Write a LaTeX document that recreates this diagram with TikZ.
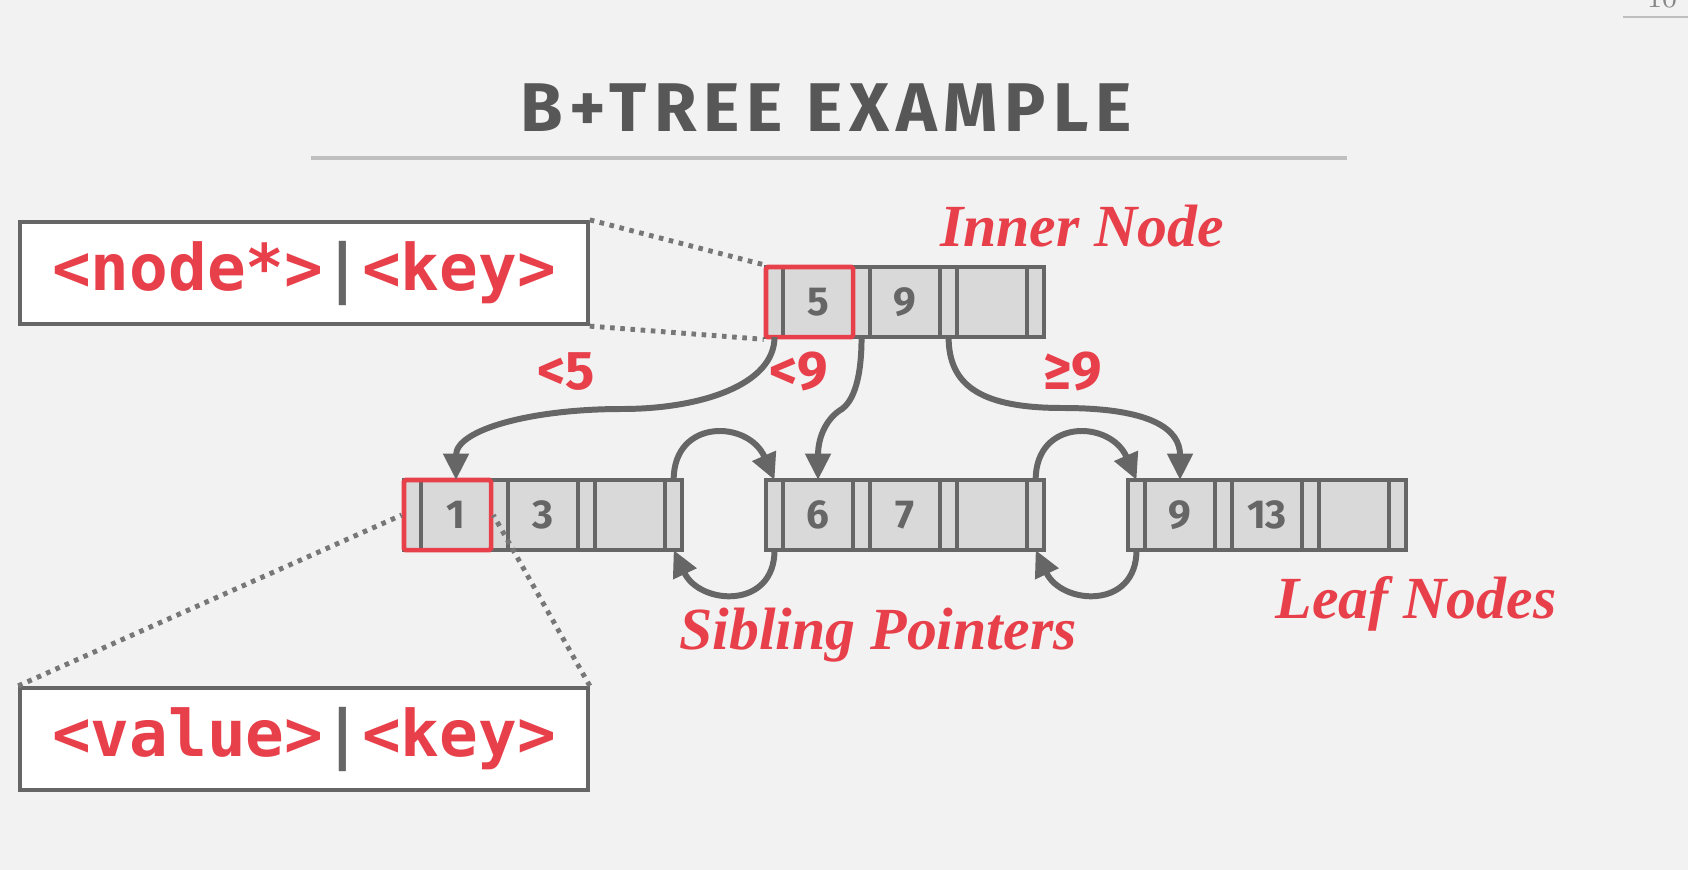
\documentclass[tikz,border=0pt]{standalone}
\usepackage{fontspec}
\usetikzlibrary{positioning,fit,arrows.meta}

\setmainfont{Liberation Serif}
\newfontfamily\sansfont{Fira Sans}
\newfontfamily\codefont{DejaVu Sans Mono}
\newfontfamily\titlefont[LetterSpace=10]{Fira Sans}
\newfontfamily\pagefont{Latin Modern Roman}

\definecolor{slidebg}{HTML}{F2F2F2}
\definecolor{linegray}{HTML}{666666}
\definecolor{cellgray}{HTML}{D9D9D9}
\definecolor{hlred}{HTML}{E8404B}
\definecolor{titlegray}{HTML}{575757}
\definecolor{rulegray}{HTML}{BFBFBF}
\definecolor{dotgray}{HTML}{777777}

% one B+tree node: name, top-left corner, three keys
\newcommand{\bptnode}[5]{%
  \node[ptrcell, anchor=north west] (#1-p0) at (#2) {};
  \node[keycell, right=0pt of #1-p0] (#1-k1) {#3};
  \node[ptrcell, right=0pt of #1-k1] (#1-p1) {};
  \node[keycell, right=0pt of #1-p1] (#1-k2) {#4};
  \node[ptrcell, right=0pt of #1-k2] (#1-p2) {};
  \node[keycell, right=0pt of #1-p2] (#1-k3) {#5};
  \node[ptrcell, right=0pt of #1-k3] (#1-p3) {};
}

\begin{document}
\begin{tikzpicture}[x=0.01cm, y=-0.01cm,
    ptrcell/.style={draw=linegray, fill=cellgray, line width=1.1pt, outer sep=0pt,
      inner sep=0pt, minimum width=0.17cm, minimum height=0.70cm},
    keycell/.style={ptrcell, minimum width=0.70cm,
      font=\sansfont\bfseries\fontsize{11.5pt}{13pt}\selectfont, text=linegray},
    hlbox/.style={draw=hlred, line width=1.3pt, inner sep=0pt, rounded corners=0.5pt},
    fmtbox/.style={draw=linegray, fill=white, line width=1.2pt, minimum width=5.67cm,
      minimum height=1.02cm, inner sep=0pt, font=\codefont\bfseries\fontsize{18.3pt}{20pt}\selectfont},
    ptrarrow/.style={draw=linegray, line width=1.7pt, -{Triangle[length=7.5pt,width=7pt]}},
    zoomline/.style={draw=dotgray, line width=1.4pt, dash pattern=on 1.3pt off 1.6pt},
    note/.style={text=hlred, font=\bfseries\itshape\fontsize{17pt}{19pt}\selectfont},
    cond/.style={text=hlred, font=\sansfont\bfseries\fontsize{15.5pt}{17pt}\selectfont}]

  \useasboundingbox (0,0) rectangle (1688,870);
  \fill[slidebg] (0,0) rectangle (1688,870);

  % Page number (cut at the top)
  \node[anchor=base, text=rulegray!70!black, font=\pagefont\fontsize{8pt}{9pt}\selectfont] (pagenum) at (1662,8) {10};
  \draw[rulegray, line width=0.85pt] (1623,17) -- (1688,17);

  % Title
  \node[text=titlegray, font=\titlefont\bfseries\fontsize{19.6pt}{22pt}\selectfont] (title) at (826,108) {B+TREE EXAMPLE};
  \draw[rulegray, line width=1.1pt] (311,158) -- (1347,158);

  % Inner node and leaf nodes
  \bptnode{in}{766,267}{5}{9}{}
  \bptnode{a}{404,480}{1}{3}{}
  \bptnode{b}{766,480}{6}{7}{}
  \bptnode{c}{1128,480}{9}{13}{}

  % Highlighted entries
  \node[hlbox, fit=(in-p0)(in-k1)] (in-hl) {};
  \node[hlbox, fit=(a-p0)(a-k1)] (a-hl) {};

  % Entry formats
  \node[fmtbox] (ptrkey) at (304,273) {{\color{hlred}<node*>}{\color{linegray}|}{\color{hlred}<key>}};
  \node[fmtbox] (valkey) at (304,739) {{\color{hlred}<value>}{\color{linegray}|}{\color{hlred}<key>}};

  \draw[zoomline] (ptrkey.north east) -- (in-hl.north west);
  \draw[zoomline] (ptrkey.south east) -- (in-hl.south west);
  \draw[zoomline] (valkey.north west) -- (a-hl.west);
  \draw[zoomline] (valkey.north east) -- (a-hl.east);

  % Child pointers
  \coordinate (lbend) at (622,409);
  \coordinate (mbend) at (842,409);
  \coordinate (rbend) at (1063,408);
  \draw[ptrarrow] (in-p0.south) .. controls +(0,48) and +(78,0) .. (lbend)
    .. controls +(-92,0) and +(0,-50) .. (a-k1.north);
  \draw[ptrarrow] (in-p1.south) .. controls +(0,50) and +(8,-6) .. (mbend)
    .. controls +(-14,8) and +(0,-45) .. (b-k1.north);
  \draw[ptrarrow] (in-p2.south) .. controls +(0,50) and +(-80,0) .. (rbend)
    .. controls +(90,0) and +(0,-50) .. (c-k1.north);

  \node[cond] (lt5) at (566,372) {<5};
  \node[cond] (lt9) at (799,371) {<9};
  \node[cond] (ge9) at (1073,371) {≥9};

  % Sibling pointers
  \draw[ptrarrow] (a-p3.north) .. controls +(0,-62) and +(-26,-60) .. (b-p0.north);
  \draw[ptrarrow] (b-p3.north) .. controls +(0,-62) and +(-26,-60) .. (c-p0.north);
  \draw[ptrarrow] (b-p0.south) .. controls +(0,60) and +(26,55) .. (a-p3.south);
  \draw[ptrarrow] (c-p0.south) .. controls +(0,60) and +(26,55) .. (b-p3.south);

  % Labels
  \node[note] (innerlbl) at (1082,226) {Inner Node};
  \node[note] (leaflbl) at (1416,604) {Leaf Nodes};
  \node[note] (siblbl) at (878,635) {Sibling Pointers};

\end{tikzpicture}
\end{document}
